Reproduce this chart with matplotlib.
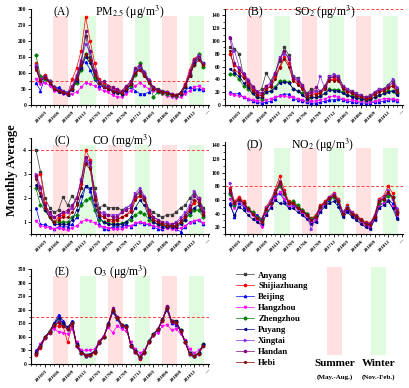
import matplotlib
matplotlib.use("Agg")
import matplotlib.pyplot as plt
from matplotlib.patches import Rectangle
from matplotlib.ticker import MultipleLocator, FixedLocator

plt.rcParams['font.family'] = ['Liberation Serif', 'DejaVu Serif']
plt.rcParams['mathtext.fontset'] = 'stix'

# months Jan 2016 .. Feb 2019
months = ['201601', '201602', '201603', '201604', '201605', '201606', '201607', '201608', '201609', '201610',
          '201611', '201612', '201701', '201702', '201703', '201704', '201705', '201706', '201707', '201708',
          '201709', '201710', '201711', '201712', '201801', '201802', '201803', '201804', '201805', '201806',
          '201807', '201808', '201809', '201810', '201811', '201812', '201901', '201902']
tick_labels = ['201603', '201606', '201609', '201612', '201703', '201706', '201709', '201712',
               '201803', '201806', '201809', '201812', '—']

cities = ['Anyang', 'Shijiazhuang', 'Beijing', 'Hangzhou', 'Zhengzhou', 'Puyang', 'Xingtai', 'Handan', 'Hebi']
colors = ['#3a3a3a', '#ff0000', '#0000ff', '#ff00ff', '#008000', '#000080', '#8a2be2', '#800080', '#8b0000']
markers = ['s', 'o', '^', 'v', 'D', '<', '>', 'h', '*']

pm25 = [
    [120, 80, 90, 75, 55, 50, 45, 38, 55, 80, 130, 215, 150, 100, 75, 60, 55, 45, 42, 40, 55, 70, 105, 120, 95, 75, 55, 50, 45, 42, 35, 32, 40, 65, 95, 135, 150, 130],
    [130, 85, 95, 75, 55, 45, 42, 35, 80, 115, 170, 275, 200, 130, 80, 65, 60, 50, 48, 42, 52, 65, 100, 110, 100, 75, 55, 45, 40, 38, 32, 30, 38, 65, 110, 145, 155, 125],
    [70, 45, 85, 70, 55, 55, 45, 40, 50, 85, 130, 135, 110, 80, 60, 55, 50, 45, 45, 38, 45, 55, 45, 35, 35, 40, 50, 48, 42, 40, 35, 30, 35, 45, 55, 50, 50, 48],
    [80, 65, 70, 60, 45, 40, 35, 30, 35, 40, 55, 70, 65, 60, 50, 45, 40, 30, 25, 25, 35, 45, 60, 70, 60, 50, 45, 40, 35, 28, 25, 22, 25, 35, 45, 55, 60, 50],
    [155, 90, 80, 75, 55, 45, 40, 35, 50, 70, 110, 160, 140, 85, 70, 60, 55, 45, 40, 35, 50, 60, 95, 130, 100, 75, 25, 40, 38, 35, 30, 28, 35, 55, 95, 125, 160, 120],
    [115, 75, 85, 70, 50, 42, 38, 32, 48, 75, 115, 150, 130, 95, 70, 55, 50, 42, 38, 35, 48, 65, 100, 115, 95, 70, 50, 45, 40, 38, 32, 30, 35, 55, 90, 130, 145, 130],
    [125, 80, 90, 75, 55, 48, 45, 38, 60, 95, 140, 190, 165, 110, 75, 60, 55, 48, 45, 42, 55, 75, 110, 120, 105, 80, 55, 48, 42, 40, 35, 30, 38, 60, 100, 140, 155, 130],
    [120, 78, 92, 72, 55, 48, 42, 36, 55, 90, 135, 230, 170, 105, 70, 75, 60, 55, 50, 45, 60, 75, 115, 125, 100, 75, 55, 48, 42, 40, 33, 30, 38, 62, 100, 140, 150, 128],
    [110, 75, 85, 70, 50, 45, 40, 35, 50, 80, 125, 160, 140, 95, 70, 55, 50, 45, 40, 38, 50, 65, 100, 110, 90, 70, 50, 45, 40, 38, 32, 30, 36, 58, 90, 125, 140, 125],
]
so2 = [
    [90, 88, 80, 45, 38, 28, 20, 25, 50, 38, 50, 68, 90, 78, 45, 42, 32, 18, 25, 22, 20, 30, 45, 42, 45, 30, 25, 22, 18, 15, 12, 15, 20, 25, 25, 32, 38, 25],
    [80, 62, 58, 45, 35, 25, 18, 15, 25, 30, 45, 60, 75, 65, 40, 35, 28, 15, 20, 18, 18, 28, 40, 40, 40, 28, 22, 18, 15, 12, 10, 12, 18, 22, 24, 28, 30, 20],
    [20, 17, 18, 12, 10, 6, 4, 3, 4, 6, 10, 15, 17, 17, 10, 8, 6, 4, 3, 3, 4, 6, 8, 8, 10, 8, 6, 5, 4, 3, 3, 3, 4, 5, 6, 8, 8, 6],
    [17, 15, 14, 12, 10, 8, 7, 6, 8, 10, 12, 14, 14, 12, 12, 10, 8, 6, 6, 6, 8, 10, 12, 14, 12, 10, 8, 8, 6, 6, 5, 5, 6, 8, 10, 10, 9, 8],
    [48, 48, 40, 30, 25, 18, 12, 10, 20, 22, 28, 38, 37, 36, 25, 22, 18, 10, 12, 12, 14, 18, 25, 24, 24, 20, 16, 14, 12, 10, 8, 9, 12, 15, 18, 22, 22, 18],
    [57, 50, 45, 35, 28, 18, 12, 12, 20, 22, 26, 35, 36, 35, 25, 22, 16, 10, 12, 12, 14, 18, 24, 22, 22, 18, 15, 13, 11, 10, 8, 9, 12, 15, 18, 20, 22, 15],
    [107, 85, 60, 50, 40, 30, 22, 18, 30, 35, 50, 75, 80, 75, 45, 40, 32, 16, 20, 22, 45, 25, 45, 48, 45, 30, 25, 22, 18, 15, 12, 14, 20, 25, 25, 30, 40, 28],
    [105, 65, 55, 48, 38, 28, 20, 18, 30, 32, 48, 72, 85, 72, 42, 38, 30, 15, 20, 28, 22, 28, 42, 45, 42, 28, 22, 20, 16, 14, 12, 13, 18, 22, 25, 28, 35, 22],
    [85, 55, 50, 42, 32, 22, 16, 14, 25, 28, 40, 58, 72, 60, 38, 32, 25, 12, 16, 16, 18, 25, 38, 38, 38, 25, 20, 18, 14, 12, 10, 11, 16, 20, 22, 26, 30, 20],
]
co = [
    [4.0, 3.1, 2.0, 1.6, 1.4, 1.5, 2.05, 1.7, 2.1, 1.8, 2.4, 3.5, 3.3, 2.4, 1.6, 1.7, 1.6, 1.6, 1.6, 1.5, 1.6, 1.7, 2.1, 2.2, 2.0, 1.5, 1.4, 1.3, 1.2, 1.3, 1.3, 1.4, 1.6, 1.7, 2.0, 2.2, 2.0, 1.6],
    [2.9, 3.0, 1.8, 1.3, 1.0, 1.2, 1.3, 1.4, 1.6, 2.0, 2.6, 4.0, 3.6, 2.0, 1.3, 1.2, 1.1, 1.0, 1.1, 1.2, 1.3, 1.5, 2.0, 2.1, 2.0, 1.4, 1.1, 1.0, 0.9, 0.8, 0.8, 0.8, 1.0, 1.2, 1.5, 1.8, 2.0, 1.4],
    [1.6, 0.9, 0.9, 0.8, 0.7, 0.8, 0.8, 0.8, 0.9, 1.2, 1.8, 2.5, 2.3, 1.5, 0.9, 0.7, 0.7, 0.8, 0.8, 0.8, 0.9, 0.8, 0.9, 1.0, 0.9, 0.9, 0.8, 0.7, 0.7, 0.8, 0.8, 0.7, 0.6, 0.8, 1.0, 1.0, 1.1, 0.9],
    [1.05, 0.85, 0.8, 0.75, 0.7, 0.75, 0.7, 0.65, 0.75, 0.85, 1.0, 1.1, 1.05, 0.95, 0.85, 0.8, 0.75, 0.7, 0.7, 0.7, 0.8, 0.85, 0.95, 1.0, 0.95, 0.9, 0.85, 0.8, 0.75, 0.75, 0.7, 0.7, 0.75, 0.85, 0.95, 1.05, 1.1, 0.95],
    [2.4, 1.7, 1.5, 1.2, 1.0, 1.0, 1.0, 1.0, 1.2, 1.3, 1.7, 1.9, 2.0, 1.5, 1.1, 1.0, 0.95, 0.9, 0.9, 0.95, 1.0, 1.1, 1.3, 1.4, 1.35, 1.1, 1.0, 0.9, 0.9, 0.85, 0.85, 0.85, 0.95, 1.1, 1.3, 1.5, 1.5, 1.2],
    [2.55, 2.1, 1.5, 1.2, 0.9, 0.9, 0.9, 0.9, 1.1, 1.5, 2.1, 2.5, 2.4, 1.7, 1.2, 1.0, 0.9, 0.9, 0.9, 0.9, 1.0, 1.2, 1.6, 1.9, 1.7, 1.2, 1.0, 0.9, 0.8, 0.8, 0.8, 0.8, 0.9, 1.1, 1.4, 1.6, 1.7, 1.3],
    [3.0, 2.5, 1.6, 1.3, 1.2, 1.3, 1.4, 1.4, 1.6, 2.0, 2.8, 3.6, 3.4, 2.2, 1.4, 1.4, 1.3, 1.3, 1.3, 1.4, 1.6, 1.7, 2.2, 2.4, 2.1, 1.5, 1.2, 1.1, 1.0, 1.0, 0.9, 1.0, 1.2, 1.4, 1.7, 2.3, 2.0, 1.5],
    [2.9, 2.4, 1.7, 1.4, 1.2, 1.3, 1.4, 1.5, 1.7, 2.0, 2.7, 3.7, 3.5, 2.1, 1.4, 1.3, 1.3, 1.2, 1.2, 1.4, 1.5, 1.6, 2.1, 2.3, 2.0, 1.5, 1.2, 1.1, 1.0, 0.9, 0.9, 0.95, 1.1, 1.3, 1.6, 2.1, 1.9, 1.4],
    [2.8, 2.2, 1.6, 1.2, 1.0, 1.1, 1.2, 1.2, 1.4, 1.7, 2.4, 3.4, 3.2, 1.9, 1.3, 1.2, 1.1, 1.1, 1.1, 1.2, 1.3, 1.4, 1.9, 2.1, 1.9, 1.3, 1.1, 1.0, 0.9, 0.85, 0.85, 0.85, 1.0, 1.2, 1.5, 1.9, 1.8, 1.3],
]
no2 = [
    [70, 55, 62, 55, 45, 40, 32, 28, 45, 55, 68, 80, 70, 55, 55, 50, 45, 40, 32, 35, 50, 55, 62, 65, 58, 40, 48, 40, 35, 30, 25, 24, 35, 58, 62, 68, 65, 40],
    [78, 58, 65, 58, 48, 42, 35, 32, 50, 60, 75, 95, 75, 58, 57, 50, 45, 40, 33, 38, 52, 58, 65, 70, 62, 42, 52, 42, 38, 32, 28, 26, 38, 62, 66, 80, 70, 45],
    [55, 35, 55, 50, 45, 42, 38, 32, 45, 55, 65, 70, 60, 50, 52, 48, 42, 38, 30, 33, 45, 52, 60, 65, 55, 38, 45, 38, 35, 30, 25, 22, 32, 52, 55, 60, 55, 35],
    [62, 48, 58, 52, 45, 38, 30, 20, 40, 50, 62, 72, 62, 50, 52, 46, 40, 32, 26, 30, 45, 55, 62, 68, 58, 42, 48, 40, 35, 28, 22, 20, 32, 52, 56, 58, 50, 38],
    [68, 52, 60, 55, 48, 42, 35, 30, 45, 55, 70, 82, 68, 55, 58, 52, 45, 40, 32, 36, 50, 56, 62, 64, 58, 40, 50, 40, 36, 30, 26, 24, 35, 56, 60, 66, 64, 42],
    [52, 38, 50, 45, 38, 32, 28, 24, 38, 48, 60, 55, 55, 48, 48, 42, 38, 32, 25, 28, 42, 50, 55, 58, 50, 35, 42, 35, 30, 25, 20, 18, 30, 48, 52, 58, 48, 32],
    [85, 55, 62, 55, 46, 40, 34, 28, 48, 58, 72, 88, 72, 55, 54, 48, 44, 38, 17, 35, 50, 56, 64, 68, 60, 42, 50, 42, 36, 30, 26, 25, 36, 60, 64, 74, 62, 48],
    [72, 55, 60, 55, 46, 40, 33, 28, 46, 56, 70, 85, 70, 55, 55, 48, 44, 38, 30, 35, 50, 56, 63, 67, 58, 40, 48, 40, 36, 30, 26, 24, 35, 58, 62, 70, 64, 42],
    [75, 55, 62, 55, 46, 40, 33, 28, 46, 56, 70, 86, 70, 55, 55, 48, 44, 38, 30, 35, 50, 56, 63, 66, 58, 40, 48, 40, 35, 30, 25, 23, 35, 58, 62, 72, 64, 40],
]
o3 = [
    [40, 65, 100, 120, 145, 170, 150, 135, 155, 70, 45, 35, 35, 45, 80, 100, 145, 200, 175, 145, 140, 70, 50, 25, 45, 85, 110, 130, 165, 210, 160, 160, 125, 85, 40, 30, 40, 70],
    [35, 60, 95, 115, 140, 140, 140, 80, 140, 65, 40, 30, 32, 42, 78, 98, 140, 195, 170, 140, 135, 65, 45, 20, 42, 80, 108, 128, 160, 205, 155, 155, 120, 80, 38, 28, 38, 65],
    [50, 70, 100, 120, 150, 182, 160, 130, 160, 65, 40, 30, 35, 48, 82, 102, 150, 190, 165, 135, 145, 65, 45, 25, 45, 82, 110, 125, 165, 200, 150, 145, 120, 80, 38, 30, 40, 70],
    [45, 75, 100, 115, 130, 118, 115, 110, 130, 80, 50, 50, 50, 55, 85, 105, 135, 115, 140, 130, 120, 80, 55, 40, 50, 85, 105, 115, 140, 145, 125, 130, 110, 90, 55, 40, 50, 65],
    [40, 68, 100, 120, 148, 165, 145, 130, 150, 70, 42, 30, 35, 45, 80, 100, 148, 195, 170, 142, 140, 68, 48, 25, 45, 85, 110, 128, 162, 205, 160, 155, 125, 82, 40, 30, 42, 72],
    [45, 70, 100, 118, 150, 170, 150, 135, 155, 72, 45, 35, 38, 48, 82, 100, 150, 195, 170, 145, 140, 70, 48, 25, 45, 85, 110, 130, 165, 210, 160, 158, 125, 85, 40, 30, 40, 72],
    [38, 65, 95, 118, 142, 160, 140, 130, 150, 68, 42, 32, 33, 45, 80, 100, 145, 200, 172, 145, 138, 68, 46, 22, 44, 82, 108, 128, 162, 210, 158, 155, 122, 82, 38, 28, 38, 68],
    [36, 62, 95, 115, 140, 155, 140, 128, 148, 66, 40, 30, 33, 44, 78, 98, 142, 205, 172, 142, 135, 66, 45, 22, 42, 80, 106, 126, 160, 215, 155, 152, 120, 80, 36, 28, 36, 65],
    [38, 64, 98, 118, 145, 150, 140, 128, 150, 68, 42, 32, 34, 45, 80, 100, 145, 198, 170, 145, 138, 68, 46, 24, 44, 82, 108, 128, 162, 205, 158, 155, 122, 82, 38, 30, 38, 68],
]

standards = [75, 150, 4, 80, 175]
summer_start = [4, 16, 28]   # May
winter_start = [10, 22, 34]  # Nov

W, H = 409, 388
fig = plt.figure(figsize=(W / 100, H / 100), dpi=100)

# (left, top, right, bottom) in pixels
panels = [
    ('(A)', r'PM$_{2.5}$ ($\mathregular{\mu}$g/m$^3$)', pm25, (0, 300), 50, (31, 9, 209, 105), 130),
    ('(B)', r'SO$_2$ ($\mathregular{\mu}$g/m$^3$)', so2, (0, 150), 20, (225, 9, 403, 105), 325),
    ('(C)', r'CO (mg/m$^3$)', co, (0.5, 4.5), 1, (31, 138, 209, 234), 122),
    ('(D)', r'NO$_2$ ($\mathregular{\mu}$g/m$^3$)', no2, (10, 145), 20, (225, 142, 403, 234), 323),
    ('(E)', r'O$_3$ ($\mathregular{\mu}$g/m$^3$)', o3, (0, 350), 50, (31, 269, 209, 364), 120),
]

x = list(range(len(months)))
for k, (tag, title, data, ylim, ystep, box, title_x) in enumerate(panels):
    l, t, r, b = box
    ax = fig.add_axes([l / W, 1 - b / H, (r - l) / W, (b - t) / H])
    for s in summer_start:
        ax.axvspan(s - 0.15, s + 3.2, ymin=0, ymax=0.93, color='#ffe1e1', lw=0, zorder=0)
    for s in winter_start:
        ax.axvspan(s - 0.15, s + 3.2, ymin=0, ymax=0.93, color='#e1fbe1', lw=0, zorder=0)
    ax.axhline(standards[k], color='#ff4040', ls=(0, (3, 2)), lw=0.7, zorder=1)
    for vals, c, m, name in zip(data, colors, markers, cities):
        ax.plot(x, vals, color=c, marker=m, ms=1.6, lw=0.5, mec=c, mfc=c, label=name, zorder=3)
    ax.set_xlim(-1.1, 38.3)
    ax.set_ylim(*ylim)
    ax.spines['top'].set_visible(False)
    ax.spines['right'].set_visible(False)
    ax.spines['left'].set_linewidth(0.8)
    ax.spines['bottom'].set_linewidth(0.8)
    ax.xaxis.set_major_locator(FixedLocator(list(range(2, 39, 3))))
    ax.xaxis.set_minor_locator(MultipleLocator(1))
    ax.set_xticklabels(tick_labels, rotation=45, ha='right', rotation_mode='anchor',
                       fontsize=3.6, fontweight='bold')
    ax.yaxis.set_major_locator(MultipleLocator(ystep))
    ax.yaxis.set_minor_locator(MultipleLocator(ystep / 2))
    yt = [v for v in ax.get_yticks() if ylim[0] - 1e-9 <= v <= ylim[1] + 1e-9 and v >= (20 if k == 3 else ylim[0])]
    ax.set_yticks(yt)
    ax.set_yticklabels([('%g' % v) for v in yt], fontsize=4, fontweight='bold')
    ax.tick_params(which='major', length=2.5, width=0.6, pad=1)
    ax.tick_params(which='minor', length=1.5, width=0.5)
    fig.text((l + 31) / W if k % 2 == 0 else (l + 30) / W, 1 - (t + 3) / H, tag,
             fontsize=8.5, ha='center', va='center')
    fig.text(title_x / W, 1 - (t + 3) / H, title, fontsize=8.5, ha='center', va='center')
    if k == 0:
        handles, labels = ax.get_legend_handles_labels()

fig.text(12 / W, 1 - 170 / H, 'Monthly Average', rotation=90, fontsize=9,
         fontweight='bold', ha='center', va='center')

fig.legend(handles, labels, loc='upper left', bbox_to_anchor=(232 / W, 1 - 267 / H),
           frameon=False, prop={'weight': 'bold', 'size': 6.3}, numpoints=1,
           handlelength=2.0, labelspacing=0.32, handletextpad=0.5, borderpad=0)

fig.patches.append(Rectangle((327 / W, 1 - 355 / H), 15 / W, 88 / H, transform=fig.transFigure,
                             facecolor='#ffe1e1', edgecolor='none'))
fig.patches.append(Rectangle((371 / W, 1 - 355 / H), 15 / W, 88 / H, transform=fig.transFigure,
                             facecolor='#e1fbe1', edgecolor='none'))
fig.text(335 / W, 1 - 363 / H, 'Summer', fontsize=8, fontweight='bold', ha='center', va='center')
fig.text(335 / W, 1 - 377 / H, '(May.-Aug.)', fontsize=5, fontweight='bold', ha='center', va='center')
fig.text(379 / W, 1 - 363 / H, 'Winter', fontsize=8, fontweight='bold', ha='center', va='center')
fig.text(379 / W, 1 - 377 / H, '(Nov.-Feb.)', fontsize=5, fontweight='bold', ha='center', va='center')

fig.savefig('out.png', dpi=100)
